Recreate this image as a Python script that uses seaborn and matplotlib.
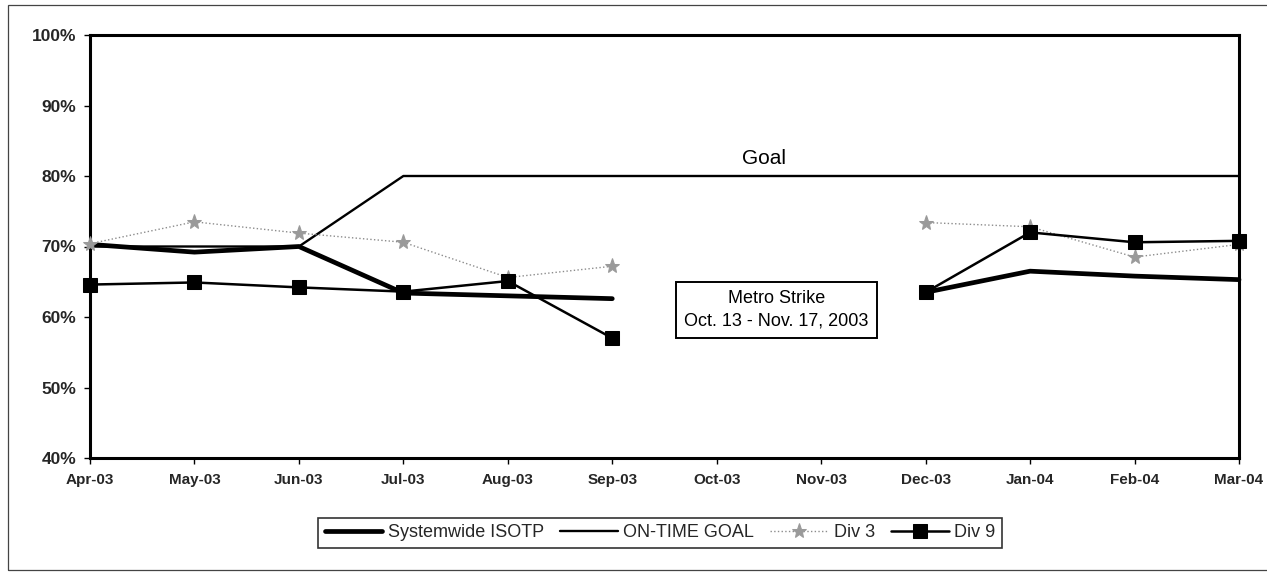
import numpy as np
import pandas as pd
import matplotlib
matplotlib.use("Agg")
import matplotlib.pyplot as plt
from matplotlib.patches import Rectangle
from matplotlib.ticker import FuncFormatter
import seaborn as sns

# Monthly on-time performance, Apr-03 .. Mar-04 (no service data during the Metro strike)
months = ["Apr-03", "May-03", "Jun-03", "Jul-03", "Aug-03", "Sep-03",
          "Oct-03", "Nov-03", "Dec-03", "Jan-04", "Feb-04", "Mar-04"]
systemwide_isotp = [70.3, 69.2, 70.0, 63.4, 63.0, 62.6, np.nan, np.nan, 63.5, 66.5, 65.8, 65.3]
on_time_goal = [70, 70, 70, 80, 80, 80, 80, 80, 80, 80, 80, 80]
div_3 = [70.4, 73.5, 71.9, 70.6, 65.6, 67.2, np.nan, np.nan, 73.4, 72.8, 68.5, 70.3]
div_9 = [64.6, 64.9, 64.2, 63.6, 65.1, 57.0, np.nan, np.nan, 63.5, 72.0, 70.6, 70.8]

yticks = [40, 50, 60, 70, 80, 90, 100]

df = pd.DataFrame({
    "idx": np.arange(len(months)),
    "month": months,
    "Systemwide ISOTP": systemwide_isotp,
    "ON-TIME GOAL": on_time_goal,
    "Div 3": div_3,
    "Div 9": div_9,
})
# contiguous stretches of data on either side of the strike
segments = [df.iloc[0:6], df.iloc[8:12]]

sns.set_theme(style="white")
plt.rcParams["font.family"] = ["Liberation Sans", "DejaVu Sans"]

fig = plt.figure(figsize=(12.67, 5.75), dpi=100)
ax = fig.add_axes([90 / 1267, 1 - 458 / 575, (1239 - 90) / 1267, (458 - 35) / 575])

styles = {
    "Systemwide ISOTP": dict(color="black", lw=3.4, zorder=3),
    "ON-TIME GOAL": dict(color="black", lw=1.7, zorder=2),
    "Div 3": dict(color="#8c8c8c", lw=1.0, ls=":", marker="*", ms=11,
                  mfc="#9a9a9a", mec="#9a9a9a", zorder=4),
    "Div 9": dict(color="black", lw=1.8, marker="s", ms=10,
                  mfc="black", mec="black", zorder=5),
}

# goal line runs the full year
sns.lineplot(data=df, x="idx", y="ON-TIME GOAL", ax=ax, label="ON-TIME GOAL",
             clip_on=False, **styles["ON-TIME GOAL"])

for name in ["Systemwide ISOTP", "Div 3", "Div 9"]:
    for k, seg in enumerate(segments):
        sns.lineplot(data=seg, x="idx", y=name, ax=ax,
                     label=name if k == 0 else "_nolegend_",
                     clip_on=False, **styles[name])

ax.set_xlim(0, len(months) - 1)
ax.set_ylim(40, 100)
ax.set_xticks(df["idx"])
ax.set_xticklabels(months, fontsize=11, fontweight="bold")
ax.set_yticks(yticks)
ax.yaxis.set_major_formatter(FuncFormatter(lambda v, p: f"{int(v)}%"))
for t in ax.get_yticklabels():
    t.set_fontsize(12.5)
    t.set_fontweight("bold")
ax.set_xlabel("")
ax.set_ylabel("")
ax.tick_params(axis="both", direction="out", length=4, width=1, color="black",
               bottom=True, left=True)
ax.tick_params(axis="x", pad=7)
ax.tick_params(axis="y", pad=6)

for side, sp in ax.spines.items():
    sp.set_visible(True)
    sp.set_color("black")
    sp.set_linewidth(2.2)

ax.text(6.45, 81.2, "Goal", fontsize=15, ha="center", va="bottom", color="black")

ax.text(6.57, 61.0, "Metro Strike\nOct. 13 - Nov. 17, 2003", fontsize=13,
        ha="center", va="center", linespacing=1.45, color="black",
        bbox=dict(boxstyle="square,pad=0.45", fc="white", ec="black", lw=1.4))

handles, labels = ax.get_legend_handles_labels()
order = ["Systemwide ISOTP", "ON-TIME GOAL", "Div 3", "Div 9"]
hmap = dict(zip(labels, handles))
leg = fig.legend([hmap[o] for o in order], order, loc="upper center",
                 bbox_to_anchor=(660 / 1267, 1 - 518 / 575), ncol=4,
                 frameon=True, fancybox=False, edgecolor="black",
                 fontsize=13, handlelength=3.2, handletextpad=0.3,
                 columnspacing=0.9, borderpad=0.35, borderaxespad=0)
leg.get_frame().set_linewidth(1.2)
if ax.get_legend() is not None:
    ax.get_legend().remove()

# outer chart-area border
fig.patches.append(Rectangle((8 / 1267, 1 - 570 / 575), 1.05, (570 - 5) / 575,
                             transform=fig.transFigure, fill=False,
                             ec="#444444", lw=0.9, zorder=0))

fig.savefig("out.png", dpi=100)
